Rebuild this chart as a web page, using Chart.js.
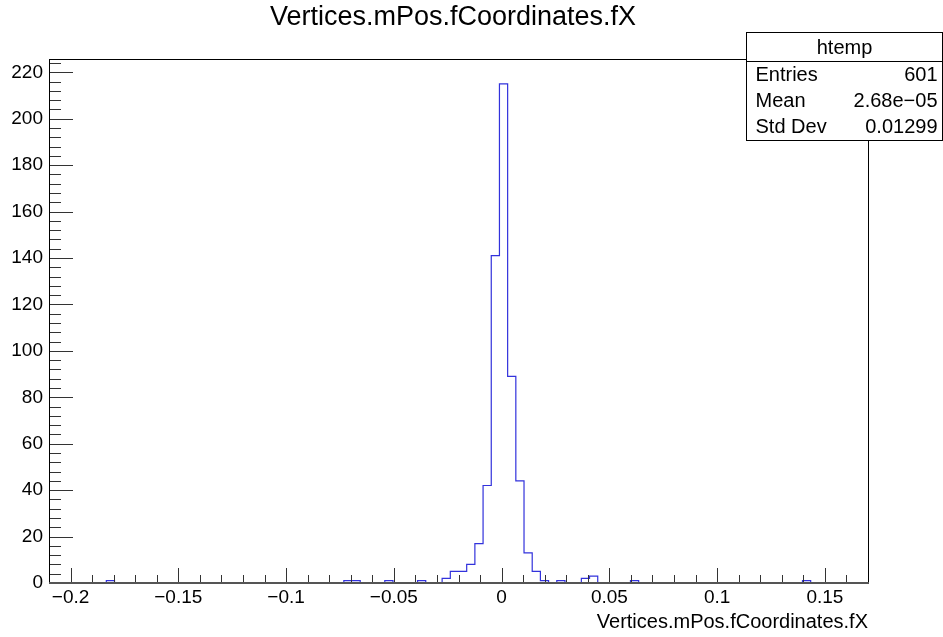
<!DOCTYPE html>
<html>
<head>
<meta charset="utf-8">
<script src="https://cdn.jsdelivr.net/npm/chart.js@4/dist/chart.umd.min.js"></script>
<style>
  body { margin: 0; background: #fff; }
  #wrap { width: 943px; height: 637px; }
</style>
</head>
<body>
<div id="wrap"><canvas id="hist" width="943" height="637"></canvas></div>
<script>
// histogram binning (ROOT htemp, 100 bins)
const xMin = -0.21;
const xMax = 0.17;
const nBins = 100;

// bin contents
const counts = [
  0, 0, 0, 0, 0, 0, 0, 1, 0, 0,
  0, 0, 0, 0, 0, 0, 0, 0, 0, 0,
  0, 0, 0, 0, 0, 0, 0, 0, 0, 0,
  0, 0, 0, 0, 0, 0, 1, 1, 0, 0,
  0, 1, 0, 0, 0, 1, 0, 0, 2, 5,
  5, 8, 17, 42, 141, 215, 89, 44, 13, 5,
  1, 0, 1, 0, 0, 2, 3, 0, 0, 0,
  0, 1, 0, 0, 0, 0, 0, 0, 0, 0,
  0, 0, 0, 0, 0, 0, 0, 0, 0, 0,
  0, 0, 1, 0, 0, 0, 0, 0, 0, 0
];

const yMax = 225.75;

// tick labels
const xTicks = [-0.2, -0.15, -0.1, -0.05, 0, 0.05, 0.1, 0.15];
const yTicks = [0, 20, 40, 60, 80, 100, 120, 140, 160, 180, 200, 220];
const xMinorStep = 0.01;
const yMinorStep = 4;

const titleText = 'Vertices.mPos.fCoordinates.fX';
const xTitle = 'Vertices.mPos.fCoordinates.fX';

// stats box
const statName = 'htemp';
const statLabels = ['Entries', 'Mean', 'Std Dev'];
const statValues = ['601', '2.68e\u221205', '0.01299'];

const FONT = "'Liberation Sans', Arial, Helvetica, sans-serif";

// step points: left edge of every bin + right edge of the last one
const binW = (xMax - xMin) / nBins;
const points = counts.map((c, i) => ({ x: xMin + i * binW, y: c }));
points.push({ x: xMax, y: 0 });

function fmt(v) {
  return String(v).replace('-', '\u2212');
}

// ROOT style title, frame, inside ticks and the stats box
const rootFrame = {
  id: 'rootFrame',
  afterDatasetsDraw(chart) {
    const ctx = chart.ctx;
    const a = chart.chartArea;
    const xs = chart.scales.x;
    const ys = chart.scales.y;
    ctx.save();

    // title (ROOT centres it on the pad, not on the frame)
    ctx.fillStyle = '#000';
    ctx.font = '27px ' + FONT;
    ctx.textAlign = 'center';
    ctx.textBaseline = 'middle';
    ctx.fillText(titleText, 453, 18);

    ctx.strokeStyle = '#333';
    ctx.lineWidth = 1;

    // x ticks
    ctx.beginPath();
    const nx = Math.round((xMax - xMin) / xMinorStep);
    for (let i = 1; i < nx; i++) {
      const v = +(xMin + i * xMinorStep).toFixed(3);
      const major = xTicks.some(t => Math.abs(t - v) < 1e-6);
      const px = Math.round(xs.getPixelForValue(v)) + 0.5;
      ctx.moveTo(px, a.bottom);
      ctx.lineTo(px, a.bottom - (major ? 15 : 8));
    }
    // y ticks
    for (let v = 0; v <= yMax; v += yMinorStep) {
      const major = v % 20 === 0;
      const py = Math.round(ys.getPixelForValue(v)) + 0.5;
      ctx.moveTo(a.left, py);
      ctx.lineTo(a.left + (major ? 24 : 12), py);
    }
    ctx.stroke();

    // frame
    ctx.strokeStyle = '#000';
    ctx.strokeRect(Math.round(a.left) + 0.5, Math.round(a.top) + 0.5,
                   Math.round(a.right - a.left), Math.round(a.bottom - a.top));
    // bottom edge covers the empty-bin part of the histogram outline
    ctx.strokeStyle = '#555';
    ctx.lineWidth = 2;
    ctx.beginPath();
    ctx.moveTo(a.left, Math.round(a.bottom));
    ctx.lineTo(a.right + 1, Math.round(a.bottom));
    ctx.stroke();
    ctx.strokeStyle = '#000';
    ctx.lineWidth = 1;

    // stats box
    const bx = 746.5, by = 32.5, bw = 196, bh = 108, hh = 29;
    ctx.fillStyle = '#fff';
    ctx.fillRect(bx, by, bw, bh);
    ctx.strokeRect(bx, by, bw, bh);
    ctx.beginPath();
    ctx.moveTo(bx, by + hh);
    ctx.lineTo(bx + bw, by + hh);
    ctx.stroke();

    ctx.fillStyle = '#000';
    ctx.font = '20px ' + FONT;
    ctx.textBaseline = 'middle';
    ctx.textAlign = 'center';
    ctx.fillText(statName, bx + bw / 2, by + hh / 2 + 1);
    statLabels.forEach((lab, i) => {
      const ty = by + hh + 14 + i * 26;
      ctx.textAlign = 'left';
      ctx.fillText(lab, bx + 9, ty);
      ctx.textAlign = 'right';
      ctx.fillText(statValues[i], bx + bw - 5, ty);
    });
    ctx.restore();
  }
};

new Chart(document.getElementById('hist'), {
  type: 'line',
  data: {
    datasets: [{
      data: points,
      stepped: 'before',
      borderColor: 'rgb(50,50,220)',
      borderWidth: 1.2,
      pointRadius: 0,
      fill: false
    }]
  },
  options: {
    responsive: false,
    animation: false,
    layout: { padding: { left: 0, right: 75, top: 59, bottom: 0 } },
    plugins: {
      legend: { display: false },
      tooltip: { enabled: false },
      title: { display: false }
    },
    scales: {
      x: {
        type: 'linear',
        min: xMin,
        max: xMax,
        grid: { display: false, drawTicks: false },
        border: { display: false },
        afterBuildTicks: (s) => { s.ticks = xTicks.map(v => ({ value: v })); },
        afterFit: (s) => { s.height = 54; },
        ticks: {
          autoSkip: false,
          maxRotation: 0,
          padding: 3,
          color: '#000',
          font: { family: FONT, size: 19 },
          callback: (v) => fmt(v)
        },
        title: {
          display: true,
          text: xTitle,
          align: 'end',
          color: '#000',
          font: { family: FONT, size: 20 },
          padding: { top: 0, bottom: 3 }
        }
      },
      y: {
        min: 0,
        max: yMax,
        grid: { display: false, drawTicks: false },
        border: { display: false },
        afterBuildTicks: (s) => { s.ticks = yTicks.map(v => ({ value: v })); },
        afterFit: (s) => { s.width = 49; },
        ticks: {
          autoSkip: false,
          padding: 6,
          color: '#000',
          font: { family: FONT, size: 19 },
          callback: (v) => fmt(v)
        }
      }
    }
  },
  plugins: [rootFrame]
});
</script>
</body>
</html>
